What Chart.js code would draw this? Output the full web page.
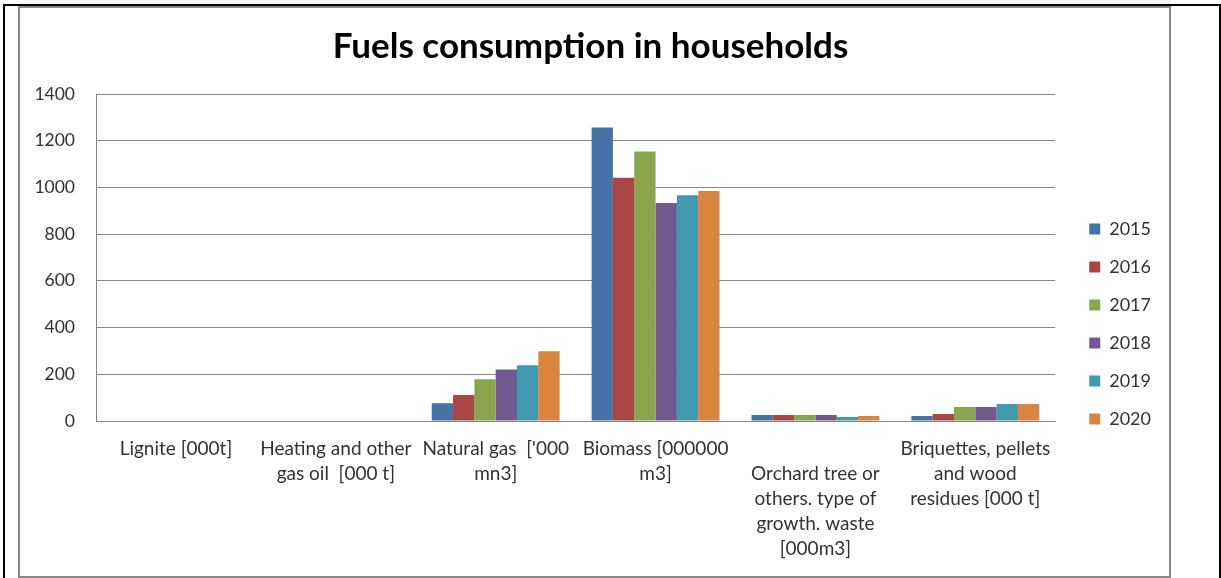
<!DOCTYPE html>
<html>
<head>
<meta charset="utf-8">
<script src="https://cdn.jsdelivr.net/npm/chart.js@4"></script>
<style>
  html, body { margin:0; padding:0; background:#fff; }
  body { width:1221px; height:578px; position:relative; overflow:hidden; }
  .outer { position:absolute; left:3px; top:4px; width:1214px; height:600px; border:2px solid #000; border-bottom:none; }
  .frame { position:absolute; left:18px; top:6px; width:1149px; height:568px; border:2px solid #888; }
  .frame canvas { display:block; }
</style>
</head>
<body>
<div class="outer"></div>
<div class="frame"><canvas id="fuelChart" width="1149" height="568"></canvas></div>
<script>
const categories = [
  'Lignite [000t]',
  ['Heating and other', 'gas oil  [000 t]'],
  ["Natural gas  ['000", 'mn3]'],
  ['Biomass [000000', 'm3]'],
  ['', 'Orchard tree or', 'others. type of', 'growth. waste', '[000m3]'],
  ['Briquettes, pellets', 'and wood', 'residues [000 t]']
];
const years = ['2015', '2016', '2017', '2018', '2019', '2020'];
const v2015 = [0, 0, 76, 1257, 26, 21];
const v2016 = [0, 0, 111, 1041, 26, 30];
const v2017 = [0, 0, 179, 1154, 26, 60];
const v2018 = [0, 0, 221, 933, 26, 60];
const v2019 = [0, 0, 239, 967, 17, 73];
const v2020 = [0, 0, 299, 985, 21, 73];
const yTicks = [0, 200, 400, 600, 800, 1000, 1200, 1400];

const series = [v2015, v2016, v2017, v2018, v2019, v2020];
const colors = ['#4572A7', '#AA4643', '#89A54E', '#71588F', '#4198AF', '#DB843D'];
const textCol = '#333';
const FONT = 'Lato, "Open Sans", sans-serif';

const ctx = document.getElementById('fuelChart');
new Chart(ctx, {
  type: 'bar',
  data: {
    labels: categories,
    datasets: years.map((y, i) => ({
      label: y,
      data: series[i],
      backgroundColor: colors[i],
      borderWidth: 0,
      categoryPercentage: 0.8,
      barPercentage: 1.0
    }))
  },
  options: {
    responsive: false,
    animation: false,
    layout: { padding: { left: 0, right: 8, top: 0, bottom: 0 } },
    plugins: {
      title: {
        display: true,
        text: 'Fuels consumption in households',
        color: '#000',
        font: { family: FONT, size: 35, weight: 'bold' },
        padding: { top: 18, bottom: 26 }
      },
      legend: {
        position: 'right',
        title: { display: true, text: '', font: { size: 12, lineHeight: 1.2 }, padding: { top: 49.6, bottom: 0 } },
        labels: {
          color: textCol,
          font: { family: FONT, size: 18 },
          boxWidth: 11, boxHeight: 11,
          padding: 20
        }
      },
      tooltip: { enabled: false }
    },
    scales: {
      x: {
        grid: { display: false, drawTicks: false },
        border: { display: true, color: '#868686', width: 1 },
        ticks: {
          color: textCol,
          font: { family: FONT, size: 19, lineHeight: 25 / 19 },
          padding: 15,
          maxRotation: 0, minRotation: 0, autoSkip: false
        },
        afterFit: s => { s.height = 155; }
      },
      y: {
        min: 0, max: 1400,
        afterBuildTicks: s => { s.ticks = yTicks.map(v => ({ value: v })); },
        grid: { color: '#868686', lineWidth: 1, drawTicks: false },
        border: { display: true, color: '#868686', width: 1 },
        ticks: {
          color: textCol,
          font: { family: FONT, size: 17.5 },
          padding: 21,
          callback: v => String(v)
        },
        afterFit: s => { s.width = 76; }
      },
      gap: {
        type: 'linear',
        position: 'right',
        display: true,
        grid: { display: false, drawTicks: false },
        border: { display: false },
        ticks: { display: false },
        afterFit: s => { s.width = 14; }
      }
    }
  }
});
</script>
</body>
</html>
